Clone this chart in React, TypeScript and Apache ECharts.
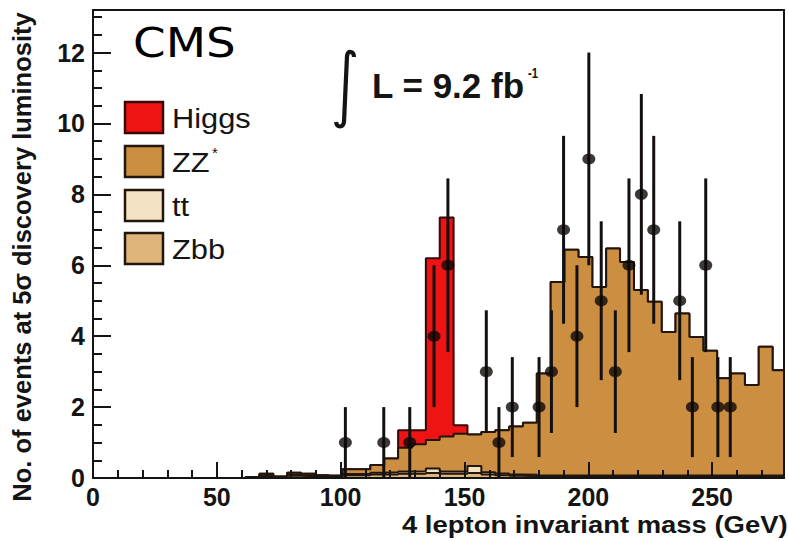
import React, { useEffect, useRef } from "react";
import * as echarts from "echarts";

// Histogram bin edges (GeV), 50 bins over 0-280
const binEdges = [
  0, 5.6, 11.2, 16.8, 22.4, 28, 33.6, 39.2, 44.8, 50.4,
  56, 61.6, 67.2, 72.8, 78.4, 84, 89.6, 95.2, 100.8, 106.4,
  112, 117.6, 123.2, 128.8, 134.4, 140, 145.6, 151.2, 156.8, 162.4,
  168, 173.6, 179.2, 184.8, 190.4, 196, 201.6, 207.2, 212.8, 218.4,
  224, 229.6, 235.2, 240.8, 246.4, 252, 257.6, 263.2, 268.8, 274.4, 280,
];

// Per-bin contributions (stack order bottom -> top: Zbb, tt, ZZ*, Higgs)
const zbbValues = [
  0, 0, 0, 0, 0, 0, 0, 0, 0, 0,
  0, 0.02, 0.05, 0.02, 0.06, 0.05, 0.04, 0.04, 0.08, 0.08,
  0.1, 0.1, 0.12, 0.12, 0.14, 0.12, 0.12, 0.14, 0.1, 0.08,
  0.06, 0.05, 0.04, 0.04, 0.04, 0.04, 0.04, 0.04, 0.04, 0.04,
  0.04, 0.04, 0.04, 0.04, 0.04, 0.04, 0.04, 0.04, 0.04, 0.04,
];
const ttValues = [
  0, 0, 0, 0, 0, 0, 0, 0, 0, 0,
  0, 0, 0.03, 0, 0.04, 0.03, 0, 0.02, 0.03, 0.04,
  0.05, 0.06, 0.06, 0.07, 0.13, 0.06, 0.06, 0.2, 0.06, 0.05,
  0.04, 0.04, 0.03, 0.03, 0.03, 0.03, 0.03, 0.03, 0.03, 0.03,
  0.03, 0.03, 0.03, 0.03, 0.03, 0.03, 0.03, 0.03, 0.03, 0.03,
];
const zzValues = [
  0, 0, 0, 0, 0, 0, 0, 0, 0, 0,
  0, 0.01, 0.04, 0.02, 0.05, 0.04, 0.04, 0, 0.14, 0.13,
  0.22, 0.39, 0.67, 0.76, 0.8, 0.99, 1.07, 0.89, 1.14, 1.22,
  1.35, 1.47, 2.88, 5.46, 6.37, 6.16, 5.32, 6.4, 6.02, 5.23,
  4.9, 4.05, 4.57, 3.91, 3.52, 2.74, 2.88, 2.55, 3.63, 2.97,
];
const higgsValues = [
  0, 0, 0, 0, 0, 0, 0, 0, 0, 0,
  0, 0, 0, 0, 0, 0, 0, 0, 0, 0,
  0, 0, 0.5, 0.4, 5.13, 6.18, 0.24, 0, 0, 0,
  0, 0, 0, 0, 0, 0, 0, 0, 0, 0,
  0, 0, 0, 0, 0, 0, 0, 0, 0, 0,
];

// Observed (pseudo-)data points
const dataMass = [
  101.9, 117.4, 127.9, 137.7, 143.3, 158.8, 163.9, 169.3, 180.1, 185.1, 190.0, 195.4,
  200.2, 205.2, 210.9, 216.4, 221.4, 226.4, 236.9, 242.0, 247.4, 252.3, 257.3,
];
const dataEvents = [1, 1, 1, 4, 6, 3, 1, 2, 2, 3, 7, 4, 9, 5, 3, 6, 8, 7, 5, 2, 6, 2, 2];
const dataErrors = [
  1, 1, 1, 2, 2.45, 1.73, 1, 1.41, 1.41, 1.73, 2.65, 2, 3, 2.24, 1.73, 2.45, 2.83, 2.65,
  2.24, 1.41, 2.45, 1.41, 1.41,
];

const xTickLabels = ["0", "50", "100", "150", "200", "250"];
const legendNames = ["Higgs", "ZZ", "tt", "Zbb"];

const X_MAX = 279;
const Y_MAX = 13.2;

const FONT = '"Liberation Sans", Arial, Helvetica, sans-serif';
const INK = "#141414";

const colors = {
  higgs: "#ee1414",
  zz: "#cc8f42",
  tt: "#f3e2c4",
  zbb: "#dfb57c",
};
const edgeColors = {
  higgs: "#3a0606",
  zz: "#22160c",
  tt: "#22160c",
  zbb: "#22160c",
};

echarts.graphic.registerShape(
  "integralSign",
  echarts.graphic.extendPath("M19 7 C19 1 13 0 12 6 L9 72 C8 78 2 78 1 72", {})
);

function cumulative(...layers: number[][]) {
  return layers[0].map((_, i) => layers.reduce((s, l) => s + l[i], 0));
}

function stepData(values: number[]) {
  return binEdges.map((e, i) => [e, values[Math.min(i, values.length - 1)]]);
}

export default function App() {
  const ref = useRef<HTMLDivElement>(null);

  useEffect(() => {
    if (!ref.current) return;
    const chart = echarts.init(ref.current, null, { renderer: "svg" });

    const cumZbb = cumulative(zbbValues);
    const cumTt = cumulative(zbbValues, ttValues);
    const cumZz = cumulative(zbbValues, ttValues, zzValues);
    const cumHiggs = cumulative(zbbValues, ttValues, zzValues, higgsValues);

    const histSeries = (name: string, vals: number[], key: keyof typeof colors, z: number) => ({
      name,
      type: "line",
      step: "end",
      data: stepData(vals),
      symbol: "none",
      silent: true,
      z,
      lineStyle: { color: edgeColors[key], width: 2 },
      areaStyle: { color: colors[key], opacity: 1 },
    });

    const axisLineStyle = { color: INK, width: 2 };
    const labelStyle = {
      fontSize: 25,
      fontWeight: "bold",
      fontFamily: FONT,
      color: INK,
    };

    const legendKeys: (keyof typeof colors)[] = ["higgs", "zz", "tt", "zbb"];
    const legendTop = [102, 146, 190, 233];

    const legendGraphics: any[] = [];
    legendKeys.forEach((k, i) => {
      legendGraphics.push({
        type: "rect",
        shape: { x: 125, y: legendTop[i], width: 38, height: 31 },
        style: { fill: colors[k], stroke: edgeColors[k], lineWidth: 2.5 },
        z: 100,
      });
      legendGraphics.push({
        type: "text",
        x: 172,
        y: legendTop[i] + 16,
        scaleX: 1.1,
        style: {
          text: legendNames[i],
          fontSize: 28,
          fontFamily: FONT,
          fill: INK,
          align: "left",
          verticalAlign: "middle",
        },
        z: 100,
      });
    });
    legendGraphics.push({
      type: "text",
      x: 212,
      y: 152,
      style: { text: "*", fontSize: 15, fontFamily: FONT, fill: INK, align: "left", verticalAlign: "middle" },
      z: 100,
    });

    chart.setOption({
      animation: false,
      backgroundColor: "#ffffff",
      grid: { left: 93, right: 4, top: 10, bottom: 63, show: false },
      xAxis: [
        {
          type: "value",
          min: 0,
          max: X_MAX,
          interval: 50,
          position: "bottom",
          z: 10,
          axisLine: { show: true, onZero: false, lineStyle: axisLineStyle },
          axisTick: { show: true, inside: true, length: 16, lineStyle: axisLineStyle },
          axisLabel: {
            ...labelStyle,
            margin: 6,
            showMaxLabel: false,
            formatter: (v: number) => xTickLabels[Math.round(v / 50)] ?? "",
          },
          splitLine: { show: false },
        },
        {
          type: "value",
          min: 0,
          max: X_MAX,
          interval: 10,
          position: "bottom",
          z: 10,
          axisLine: { show: false },
          axisTick: { show: true, inside: true, length: 8, lineStyle: axisLineStyle },
          axisLabel: { show: false },
          splitLine: { show: false },
        },
        {
          type: "value",
          min: 0,
          max: X_MAX,
          position: "top",
          z: 10,
          axisLine: { show: true, onZero: false, lineStyle: axisLineStyle },
          axisTick: { show: false },
          axisLabel: { show: false },
          splitLine: { show: false },
        },
      ],
      yAxis: [
        {
          type: "value",
          min: 0,
          max: Y_MAX,
          interval: 2,
          position: "left",
          z: 10,
          axisLine: { show: true, onZero: false, lineStyle: axisLineStyle },
          axisTick: { show: true, inside: true, length: 18, lineStyle: axisLineStyle },
          axisLabel: { ...labelStyle, margin: 8, showMaxLabel: false },
          splitLine: { show: false },
        },
        {
          type: "value",
          min: 0,
          max: Y_MAX,
          interval: 0.5,
          position: "left",
          z: 10,
          axisLine: { show: false },
          axisTick: { show: true, inside: true, length: 9, lineStyle: axisLineStyle },
          axisLabel: { show: false },
          splitLine: { show: false },
        },
        {
          type: "value",
          min: 0,
          max: Y_MAX,
          position: "right",
          z: 10,
          axisLine: { show: true, onZero: false, lineStyle: axisLineStyle },
          axisTick: { show: false },
          axisLabel: { show: false },
          splitLine: { show: false },
        },
      ],
      series: [
        histSeries("Higgs", cumHiggs, "higgs", 2),
        histSeries("ZZ*", cumZz, "zz", 3),
        histSeries("tt", cumTt, "tt", 4),
        histSeries("Zbb", cumZbb, "zbb", 5),
        {
          name: "errors",
          type: "custom",
          silent: true,
          z: 6,
          data: dataMass.map((m, i) => [m, dataEvents[i], dataErrors[i]]),
          encode: { x: 0, y: 1 },
          renderItem: (_params: any, api: any) => {
            const x = api.value(0);
            const y = api.value(1);
            const e = api.value(2);
            const top = api.coord([x, y + e]);
            const bot = api.coord([x, Math.max(0, y - e)]);
            return {
              type: "line",
              shape: { x1: top[0], y1: top[1], x2: bot[0], y2: bot[1] },
              style: { stroke: "#151010", lineWidth: 3 },
            };
          },
        },
        {
          name: "data",
          type: "scatter",
          silent: true,
          z: 7,
          symbol: "circle",
          symbolSize: [13, 11],
          itemStyle: { color: "#0c0808" },
          data: dataMass.map((m, i) => [m, dataEvents[i]]),
        },
      ],
      graphic: [
        {
          type: "text",
          x: 133,
          y: 43,
          scaleX: 1.14,
          style: {
            text: "CMS",
            fontSize: 41,
            fontFamily: '"DejaVu Sans", sans-serif',
            fill: "#000",
            align: "left",
            verticalAlign: "middle",
          },
          z: 100,
        },
        {
          type: "integralSign",
          x: 335,
          y: 50,
          style: { fill: "none", stroke: INK, lineWidth: 4.2 },
          z: 100,
        },
        {
          type: "text",
          x: 372,
          y: 85,
          style: {
            text: "L = 9.2 fb",
            fontSize: 35,
            fontWeight: "bold",
            fontFamily: FONT,
            fill: INK,
            align: "left",
            verticalAlign: "middle",
          },
          z: 100,
        },
        {
          type: "text",
          x: 528,
          y: 73,
          scaleX: 0.75,
          style: {
            text: "-1",
            fontSize: 15,
            fontWeight: "bold",
            fontFamily: FONT,
            fill: INK,
            align: "left",
            verticalAlign: "middle",
          },
          z: 100,
        },
        ...legendGraphics,
        {
          type: "text",
          x: 22,
          y: 257,
          rotation: Math.PI / 2,
          style: {
            text: "No. of events at 5\u03c3 discovery luminosity",
            fontSize: 25.5,
            fontWeight: "bold",
            fontFamily: FONT,
            fill: INK,
            align: "center",
            verticalAlign: "middle",
          },
          z: 100,
        },
        {
          type: "text",
          x: 402,
          y: 525,
          scaleX: 1.12,
          style: {
            text: "4 lepton invariant mass (GeV)",
            fontSize: 24.5,
            fontWeight: "bold",
            fontFamily: FONT,
            fill: INK,
            align: "left",
            verticalAlign: "middle",
          },
          z: 100,
        },
      ],
    });

    return () => chart.dispose();
  }, []);

  return (
    <div
      ref={ref}
      style={{ position: "fixed", left: 0, top: 0, width: 788, height: 541, background: "#fff" }}
    />
  );
}
